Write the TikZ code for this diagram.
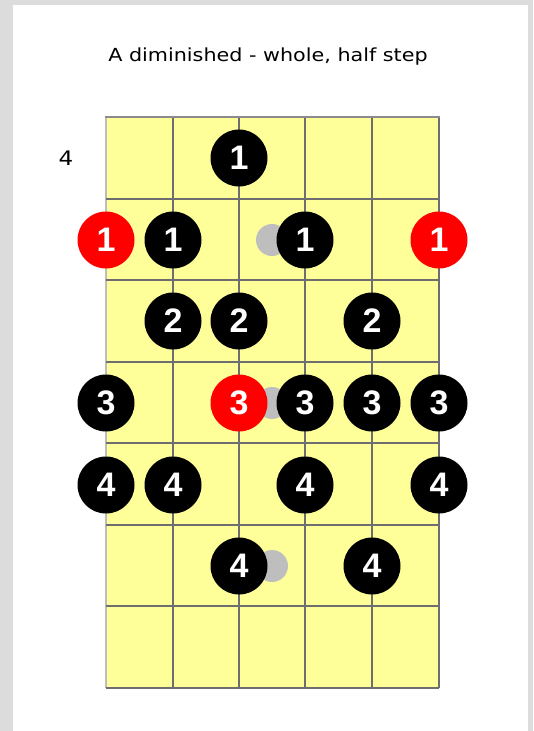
\documentclass[tikz,border=0pt]{standalone}
\usepackage{fontspec}
\setmainfont{DejaVu Sans}
\newfontfamily\digitfont{Liberation Sans}
\newfontfamily\widefont[FakeStretch=1.15]{DejaVu Sans}
\definecolor{pagegrey}{HTML}{DCDCDC}
\definecolor{fretyellow}{HTML}{FFFF99}
\definecolor{gridline}{HTML}{6E6E6E}
\definecolor{edgeline}{HTML}{BDBDBD}
\definecolor{ghost}{HTML}{BEBEBE}
\definecolor{rootred}{HTML}{FF0000}
\tikzset{
  note/.style={circle, fill=black, minimum size=57pt, inner sep=0pt, text=white, font=\digitfont\bfseries\fontsize{34}{34}\selectfont},
  rootnote/.style={note, fill=rootred},
  ghostdot/.style={circle, fill=ghost, minimum size=32pt, inner sep=0pt},
  gridstyle/.style={draw=gridline, line width=1.3pt},
}
\begin{document}
\begin{tikzpicture}[x=1pt,y=-1pt]
\useasboundingbox (0,0) rectangle (533,731);
\fill[pagegrey] (0,0) rectangle (533,731);
\fill[white] (13,5) rectangle (528,731);
\node[font=\widefont\fontsize{18}{18}\selectfont] (title) at (268,57) {A diminished - whole, half step};
% fretboard
\fill[fretyellow] (106,117) rectangle (439,688);
\foreach \x in {173,239,305,372,439} \draw[gridstyle] (\x,117) -- (\x,688);
\draw[draw=edgeline, line width=2pt] (106,117) -- (106,688);
\foreach \y in {199,280,362,443,525,606,688} \draw[gridstyle] (106,\y) -- (439,\y);
\draw[draw=gridline!80, line width=2.5pt] (105,117) -- (440,117);
\node[font=\widefont\fontsize{20}{20}\selectfont] (fret) at (66,158) {4};
% ghost dots
\node[ghostdot] (g1) at (272,240) {};
\node[ghostdot] (g2) at (272,403) {};
\node[ghostdot] (g3) at (272,566) {};
% row 1
\node[note] (r1a) at (239,158) {1};
% row 2
\node[rootnote] (r2a) at (106,240) {1};
\node[note] (r2b) at (173,240) {1};
\node[note] (r2c) at (305,240) {1};
\node[rootnote] (r2d) at (439,240) {1};
% row 3
\node[note] (r3a) at (173,321) {2};
\node[note] (r3b) at (239,321) {2};
\node[note] (r3c) at (372,321) {2};
% row 4
\node[note] (r4a) at (106,403) {3};
\node[rootnote] (r4b) at (239,403) {3};
\node[note] (r4c) at (305,403) {3};
\node[note] (r4d) at (372,403) {3};
\node[note] (r4e) at (439,403) {3};
% row 5
\node[note] (r5a) at (106,485) {4};
\node[note] (r5b) at (173,485) {4};
\node[note] (r5c) at (305,485) {4};
\node[note] (r5d) at (439,485) {4};
% row 6
\node[note] (r6a) at (239,566) {4};
\node[note] (r6b) at (372,566) {4};
\end{tikzpicture}
\end{document}
